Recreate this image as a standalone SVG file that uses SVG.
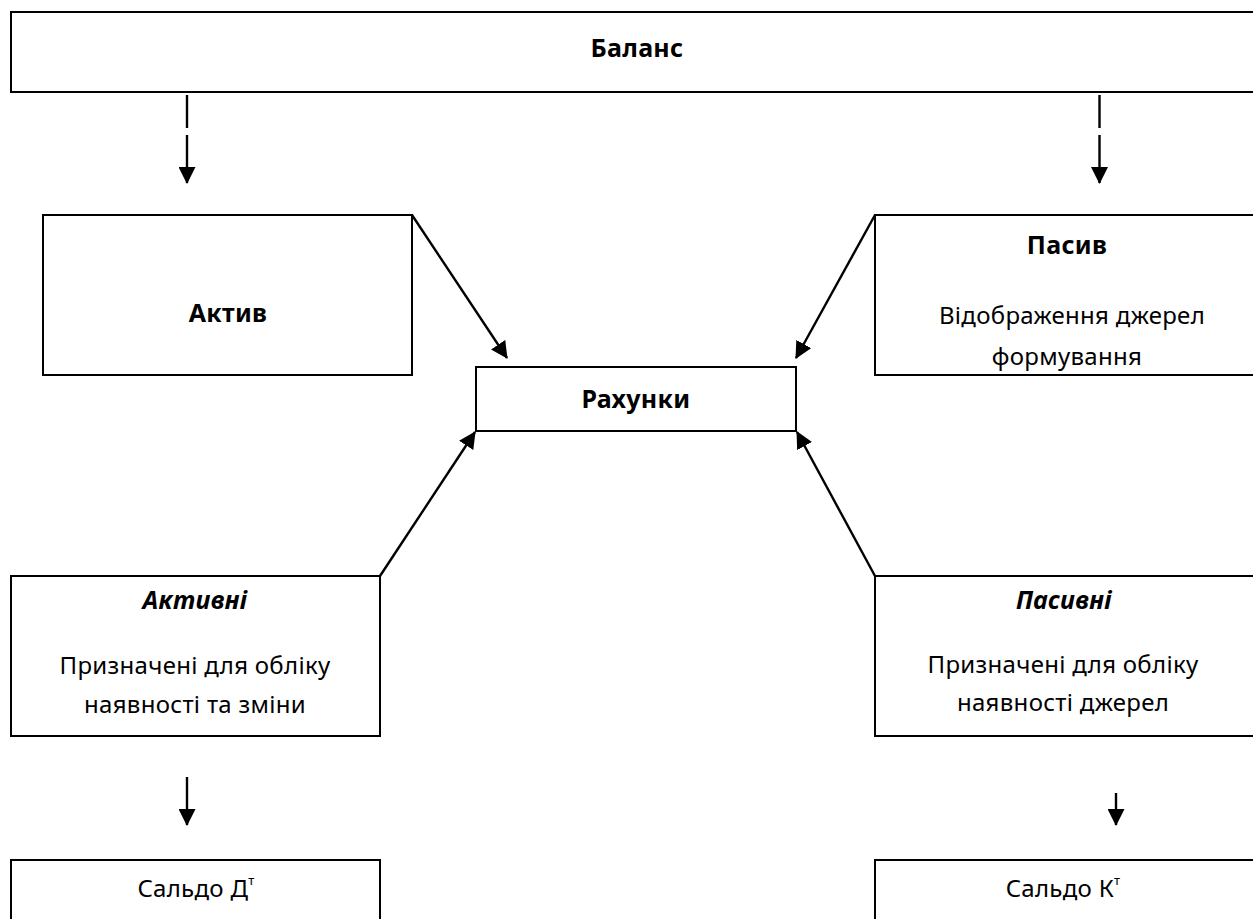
<svg xmlns="http://www.w3.org/2000/svg" width="1253" height="919" viewBox="0 0 1253 919">
<defs>
<style>
.box{fill:#fff;stroke:#000;stroke-width:2}
.t{font-family:"Noto Sans","Open Sans","DejaVu Sans",sans-serif;font-size:24px;letter-spacing:0.3px;fill:#000;text-anchor:middle}
.b{font-weight:bold;font-size:25px}
.bi{font-weight:bold;font-style:italic;font-size:25px}
.c{stroke:#000;stroke-width:2.4;fill:none}
</style>
<marker id="ah" markerWidth="17" markerHeight="17" viewBox="0 0 17 17" refX="16" refY="8.5" orient="auto" markerUnits="userSpaceOnUse">
<path d="M0,0 L17,8.5 L0,17 Z" fill="#000"/>
</marker>
</defs>
<rect width="1253" height="919" fill="#fff"/>
<g id="balans"><rect class="box" x="11" y="12" width="1260" height="80"/><text class="t b" x="637" y="57">Баланс</text></g>
<g id="aktyv"><rect class="box" x="43" y="215" width="369" height="160"/><text class="t b" x="228" y="322">Актив</text></g>
<g id="pasyv"><rect class="box" x="875" y="215" width="400" height="160"/><text class="t b" x="1067" y="254">Пасив</text><text class="t" x="1072" y="324">Відображення джерел</text><text class="t" x="1067" y="365">формування</text></g>
<g id="rakhunky"><rect class="box" x="476" y="367" width="320" height="64"/><text class="t b" x="636" y="408">Рахунки</text></g>
<g id="aktyvni"><rect class="box" x="11" y="576" width="369" height="160"/><text class="t bi" x="195" y="609">Активні</text><text class="t" x="195" y="674">Призначені для обліку</text><text class="t" x="195" y="713">наявності та зміни</text></g>
<g id="pasyvni"><rect class="box" x="875" y="576" width="400" height="160"/><text class="t bi" x="1064" y="609">Пасивні</text><text class="t" x="1063" y="673">Призначені для обліку</text><text class="t" x="1063" y="711">наявності джерел</text></g>
<g id="saldo-d"><rect class="box" x="11" y="860" width="369" height="80"/><text class="t" x="196" y="897">Сальдо Д<tspan font-size="13" dy="-12">т</tspan></text></g>
<g id="saldo-k"><rect class="box" x="875" y="860" width="400" height="80"/><text class="t" x="1063" y="897">Сальдо К<tspan font-size="13" dy="-12">т</tspan></text></g>
<g id="connectors">
<line class="c" x1="187" y1="95" x2="187" y2="128"/>
<line class="c" x1="187" y1="135" x2="187" y2="183" marker-end="url(#ah)"/>
<line class="c" x1="1099.5" y1="95" x2="1099.5" y2="128"/>
<line class="c" x1="1099.5" y1="135" x2="1099.5" y2="183" marker-end="url(#ah)"/>
<line class="c" x1="412" y1="215" x2="507" y2="358" marker-end="url(#ah)"/>
<line class="c" x1="875" y1="215" x2="796" y2="358" marker-end="url(#ah)"/>
<line class="c" x1="380" y1="576" x2="475" y2="432" marker-end="url(#ah)"/>
<line class="c" x1="875" y1="576" x2="797" y2="432" marker-end="url(#ah)"/>
<line class="c" x1="187" y1="777" x2="187" y2="825" marker-end="url(#ah)"/>
<line class="c" x1="1116" y1="793" x2="1116" y2="825" marker-end="url(#ah)"/>
</g>
</svg>
